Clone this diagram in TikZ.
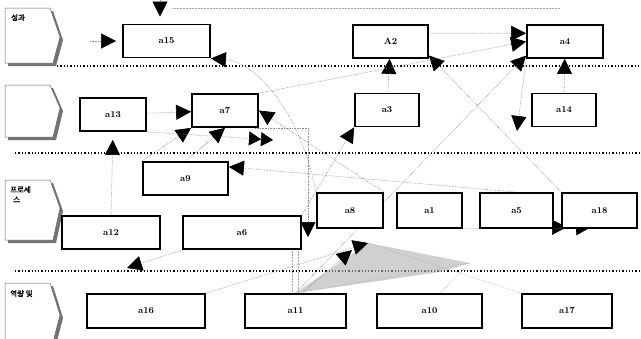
\documentclass[tikz,border=0pt]{standalone}
\usepackage{fontspec}
\newfontfamily\kr[AutoFakeBold=2]{Noto Sans CJK KR}
\usetikzlibrary{arrows.meta}
\pgfdeclarelayer{background}
\pgfsetlayers{background,main}
\tikzset{
  box/.style={draw=black, line width=1.8pt, fill=white, inner sep=0pt, minimum height=33pt, font=\bfseries\small},
  flow/.style={draw=black!45, densely dotted, line width=0.6pt, -{Triangle[length=15pt,width=15pt,color=black]}},
  dflow/.style={draw=black!45, densely dotted, line width=0.6pt, -{Triangle[length=12pt,width=14pt,color=black]Triangle[length=12pt,width=14pt,color=black]}},
  faintline/.style={draw=black!35, densely dotted, line width=0.5pt},
  lanesep/.style={draw=black, dotted, line width=1.3pt},
  laneshadow/.style={fill=black!55},
  lanebox/.style={draw=black!60, fill=white, line width=0.5pt},
  lanetext/.style={font=\kr\bfseries\fontsize{7.5}{9}\selectfont, inner sep=0pt, anchor=north west, align=left},
}
\begin{document}
\begin{tikzpicture}[x=1pt,y=-1pt]
\useasboundingbox (0,0) rectangle (641,338);

% lane label tags
\fill[laneshadow] (8,11) -- (53,11) -- (63,40) -- (56,66) -- (8,66) -- cycle;
\draw[lanebox] (5,8) -- (50,8) -- (60,37) -- (53,63) -- (5,63) -- cycle;
\fill[laneshadow] (8,88) -- (53,88) -- (63,111) -- (56,140) -- (8,140) -- cycle;
\draw[lanebox] (5,85) -- (50,85) -- (60,108) -- (53,137) -- (5,137) -- cycle;
\fill[laneshadow] (8,183) -- (53,183) -- (63,211) -- (56,243) -- (8,243) -- cycle;
\draw[lanebox] (5,180) -- (50,180) -- (60,208) -- (53,240) -- (5,240) -- cycle;
\fill[laneshadow] (8,286) -- (53,286) -- (63,318) -- (56,345) -- (8,345) -- cycle;
\draw[lanebox] (5,283) -- (50,283) -- (60,315) -- (53,342) -- (5,342) -- cycle;

\node[lanetext] (t1) at (11,14) {성과};
\node[lanetext] (t3) at (10,186) {프로세\\[1pt]\hspace*{3pt}스};
\node[lanetext] (t4) at (10,290) {역량 및};

% boxes
\node[box, minimum width=87pt] (a15) at (166.5,41) {a15};
\node[box, minimum width=75pt] (A2) at (390.5,41.5) {A2};
\node[box, minimum width=76pt] (a4) at (565,41.5) {a4};
\node[box, minimum width=66pt] (a13) at (113,114.5) {a13};
\node[box, minimum width=66pt] (a7) at (225,110.5) {a7};
\node[box, minimum width=64pt] (a3) at (387,110) {a3};
\node[box, minimum width=64pt] (a14) at (564,110) {a14};
\node[box, minimum width=85pt] (a9) at (185.5,178.5) {a9};
\node[box, minimum width=98pt] (a12) at (111,232.5) {a12};
\node[box, minimum width=118pt] (a6) at (242,232.5) {a6};
\node[box, minimum width=66pt, minimum height=35pt] (a8) at (350,210.5) {a8};
\node[box, minimum width=65pt, minimum height=35pt] (a1) at (429.5,210.5) {a1};
\node[box, minimum width=73pt, minimum height=35pt] (a5) at (516.5,210.5) {a5};
\node[box, minimum width=75pt, minimum height=35pt] (a18) at (599.5,210.5) {a18};
\node[box, minimum width=118pt, minimum height=34pt] (a16) at (146,311) {a16};
\node[box, minimum width=101pt, minimum height=34pt] (a11) at (295.5,311) {a11};
\node[box, minimum width=105pt, minimum height=34pt] (a10) at (429.5,311) {a10};
\node[box, minimum width=90pt, minimum height=34pt] (a17) at (567,311) {a17};

\begin{pgfonlayer}{background}
\fill[white] (0,0) rectangle (641,338);
\draw[lanesep] (57,66) -- (641,66);
\draw[lanesep] (15,153) -- (641,153);
\draw[lanesep] (15,271) -- (641,271);

\coordinate (ctop) at (160,0);
\coordinate (cleft) at (90,41);
\coordinate (ctl) at (172,8);
\coordinate (ctr) at (560,8);
\coordinate (cdown) at (517,131);
\coordinate (cdbl) at (273,140);
\coordinate (cmid) at (308,237);
\coordinate (cbl) at (127,268);
\coordinate (cfan) at (368,243);
\coordinate (cfan2) at (352,250);
\coordinate (cfr) at (470,263);
\coordinate (cr1) at (567,227);
\coordinate (cr2) at (591,227);

\draw[faintline] (ctl) -- (ctr);
\fill[black!30, opacity=0.6] (a11.north) -- (cfan) -- (cfr) -- (440,272) -- cycle;

\draw[flow, shorten >=7pt] (ctop) -- (ctop |- a15.north);
\draw[flow, shorten >=6pt] (cleft) -- (a15.west);
\draw[flow] (a8.north west) .. controls (300,110) and (255,62) .. (a15.south east);
\draw[flow] (a18.north west) -- (A2.-20);
\draw[flow] (a3) -- (A2);
\draw[flow] (a14) -- (a4);
\draw[flow] (A2.12) -- (a4.168);
\draw[flow] (a7.north east) -- (a4.west);
\draw[flow] (a11.north) -- (a4.200);
\draw[flow] (a6.north east) -- (a3.south west);
\draw[flow] (a4.south west) -- (cdown);
\draw[flow] (a13) -- (a7);
\draw[flow] (a9.north west) -- (a7.south west);
\draw[dflow] (a13.south east) -- (cdbl);
\draw[flow] (a9.north) -- (a7.south);
\draw[flow, shorten >=8pt] (a12.north) -- (a13.south);
\draw[flow] (a5.north) -- (a9.15);
\draw[flow] (a8.north east) -- (a7.east);
\draw[flow] (a7.-30) -| (cmid);
\draw[flow] (a6.south west) -- (cbl);
\draw[flow] (a16.north east) -- (cfan);
\draw[flow] (a11.70) -- (cfan2);
\draw[faintline] (a11.north) -- (cfr) -- (a10.60);
\draw[faintline] (a17.north west) -- (cfan);
\draw[faintline] (a11.100) -- (a11.100 |- a8.south);
\draw[faintline] (a11.80) -- (a11.80 |- a8.south);
\draw[flow] (a1.south east) -- (cr1);
\draw[flow] (a5.south east) -- (cr2);
\end{pgfonlayer}
\end{tikzpicture}
\end{document}
